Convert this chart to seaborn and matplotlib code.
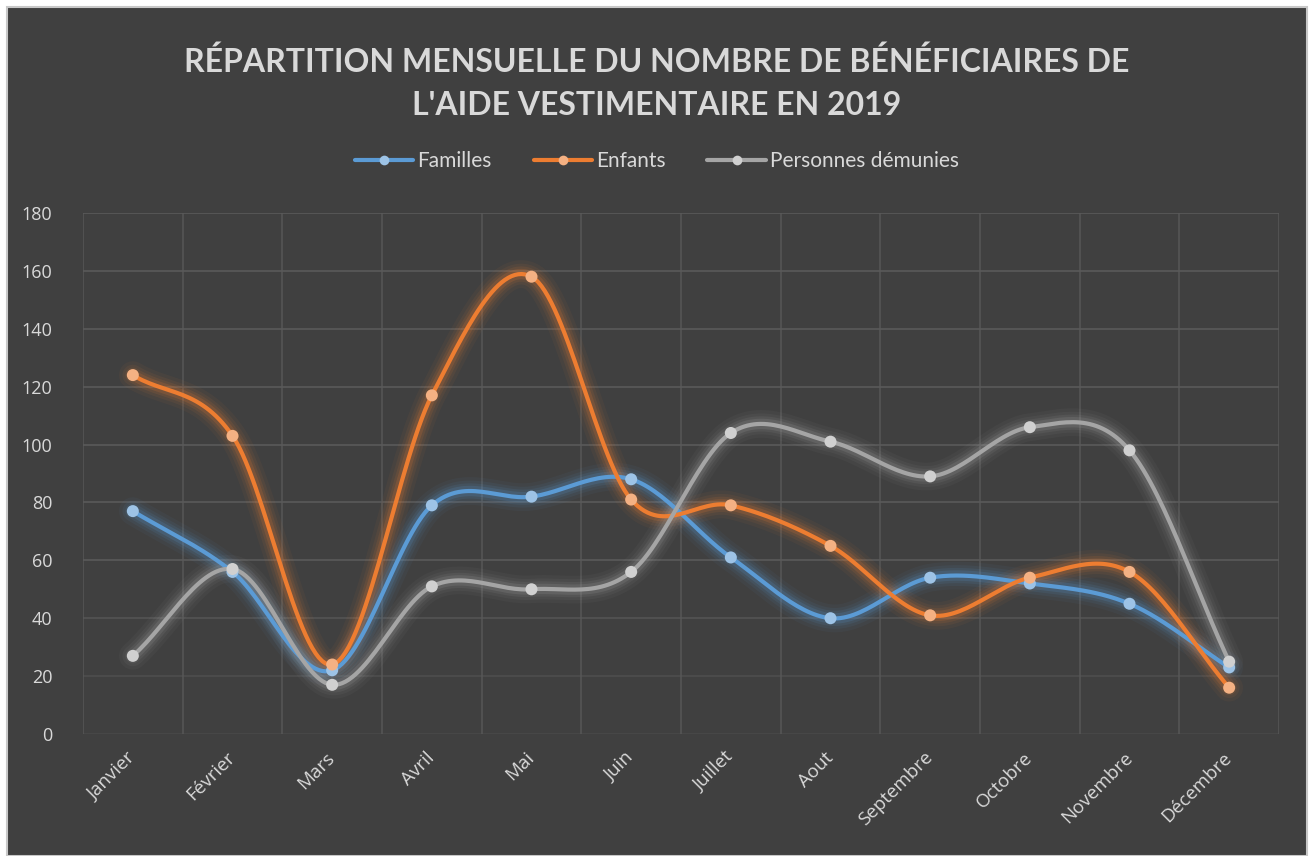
import numpy as np
import pandas as pd
import seaborn as sns
import matplotlib
matplotlib.use('Agg')
from matplotlib import pyplot as plt
from matplotlib.lines import Line2D
from matplotlib.patches import Rectangle

months = ['Janvier', 'Février', 'Mars', 'Avril', 'Mai', 'Juin', 'Juillet',
          'Aout', 'Septembre', 'Octobre', 'Novembre', 'Décembre']
familles = [77, 56, 22, 79, 82, 88, 61, 40, 54, 52, 45, 23]
enfants = [124, 103, 24, 117, 158, 81, 79, 65, 41, 54, 56, 16]
demunis = [27, 57, 17, 51, 50, 56, 104, 101, 89, 106, 98, 25]
series = ['Familles', 'Enfants', 'Personnes démunies']

line_cols = {'Familles': '#5B9BD5', 'Enfants': '#ED7D31', 'Personnes démunies': '#A5A5A5'}
mark_cols = {'Familles': '#9DC3E6', 'Enfants': '#F4B183', 'Personnes démunies': '#D0D0D0'}

df = pd.DataFrame({'mois': months * 3,
                   'valeur': familles + enfants + demunis,
                   'serie': [s for s in series for _ in months]})

bg = '#404040'
txt = '#d9d9d9'

sns.set_style('dark')
plt.rcParams['font.family'] = ['Open Sans', 'DejaVu Sans']


def smooth(y, n=30):
    # Excel-like smoothed line (Catmull-Rom through the points)
    y = np.asarray(y, dtype=float)
    k = len(y)
    m = np.zeros(k)
    m[1:-1] = (y[2:] - y[:-2]) / 2
    m[0] = y[1] - y[0]
    m[-1] = y[-1] - y[-2]
    xs, ys = [], []
    for i in range(k - 1):
        t = np.linspace(0, 1, n, endpoint=(i == k - 2))
        h00 = 2 * t**3 - 3 * t**2 + 1
        h10 = t**3 - 2 * t**2 + t
        h01 = -2 * t**3 + 3 * t**2
        h11 = t**3 - t**2
        xs.append(i + t)
        ys.append(h00 * y[i] + h10 * m[i] + h01 * y[i + 1] + h11 * m[i + 1])
    return np.concatenate(xs), np.concatenate(ys)


fig = plt.figure(figsize=(13.14, 8.56), dpi=100)
fig.patch.set_facecolor('white')
fig.patches.append(Rectangle((7 / 1314, 0), 1300 / 1314, 849 / 856,
                             transform=fig.transFigure, facecolor=bg,
                             edgecolor='#c8c8c8', linewidth=1.5, zorder=-10))

ax = fig.add_axes([83 / 1314, 1 - 734 / 856, 1196 / 1314, 521 / 856])
ax.set_facecolor(bg)

# gridlines
for v in range(0, 181, 20):
    a = 1.0 if v >= 60 else 0.35 + v / 100
    ax.axhline(v, color='#5a5a5a', lw=1.2, alpha=a, zorder=0)
for xv in np.arange(-0.5, 12, 1):
    ax.axvline(xv, color='#5a5a5a', lw=1.2, alpha=0.8, zorder=0)

# smoothed lines with a soft glow
for s, vals in zip(series, [familles, enfants, demunis]):
    xs, ys = smooth(vals)
    for lw, al in [(20, 0.05), (15, 0.07), (11, 0.1), (7.5, 0.16)]:
        ax.plot(xs, ys, color=line_cols[s], lw=lw, alpha=al,
                solid_capstyle='round', zorder=2)
    ax.plot(xs, ys, color=line_cols[s], lw=3, solid_capstyle='round', zorder=3)

sns.scatterplot(data=df, x='mois', y='valeur', hue='serie',
                palette=mark_cols, s=75, edgecolor='none', ax=ax,
                legend=False, zorder=4)

ax.set_xlim(-0.5, 11.5)
ax.set_ylim(0, 180)
ax.set_yticks(range(0, 181, 20))
ax.set_xlabel('')
ax.set_ylabel('')
for sp in ax.spines.values():
    sp.set_visible(False)
ax.tick_params(axis='y', colors=txt, labelsize=13, length=0, pad=22)
ax.tick_params(axis='x', colors=txt, labelsize=13.5, length=0, pad=15)
plt.setp(ax.get_xticklabels(), rotation=45, ha='right', va='center',
         rotation_mode='anchor')

fig.text(0.5, 1 - 83 / 856, "RÉPARTITION MENSUELLE DU NOMBRE DE BÉNÉFICIAIRES DE\nL'AIDE VESTIMENTAIRE EN 2019",
         ha='center', va='center', color=txt, fontsize=23, fontweight='bold',
         family=['Lato', 'DejaVu Sans'], linespacing=1.6)

handles = [Line2D([0], [0], color=line_cols[s], lw=3, marker='o', markersize=7,
                  markerfacecolor=mark_cols[s], markeredgecolor='none')
           for s in series]
leg = fig.legend(handles, series, loc='center', bbox_to_anchor=(0.5, 1 - 161 / 856),
                 ncol=3, frameon=False, handlelength=2.8,
                 columnspacing=2.0, handletextpad=0.2,
                 prop={'family': ['Lato', 'DejaVu Sans'], 'size': 15})
for t in leg.get_texts():
    t.set_color(txt)

fig.savefig('out.png', dpi=100, facecolor='white')
